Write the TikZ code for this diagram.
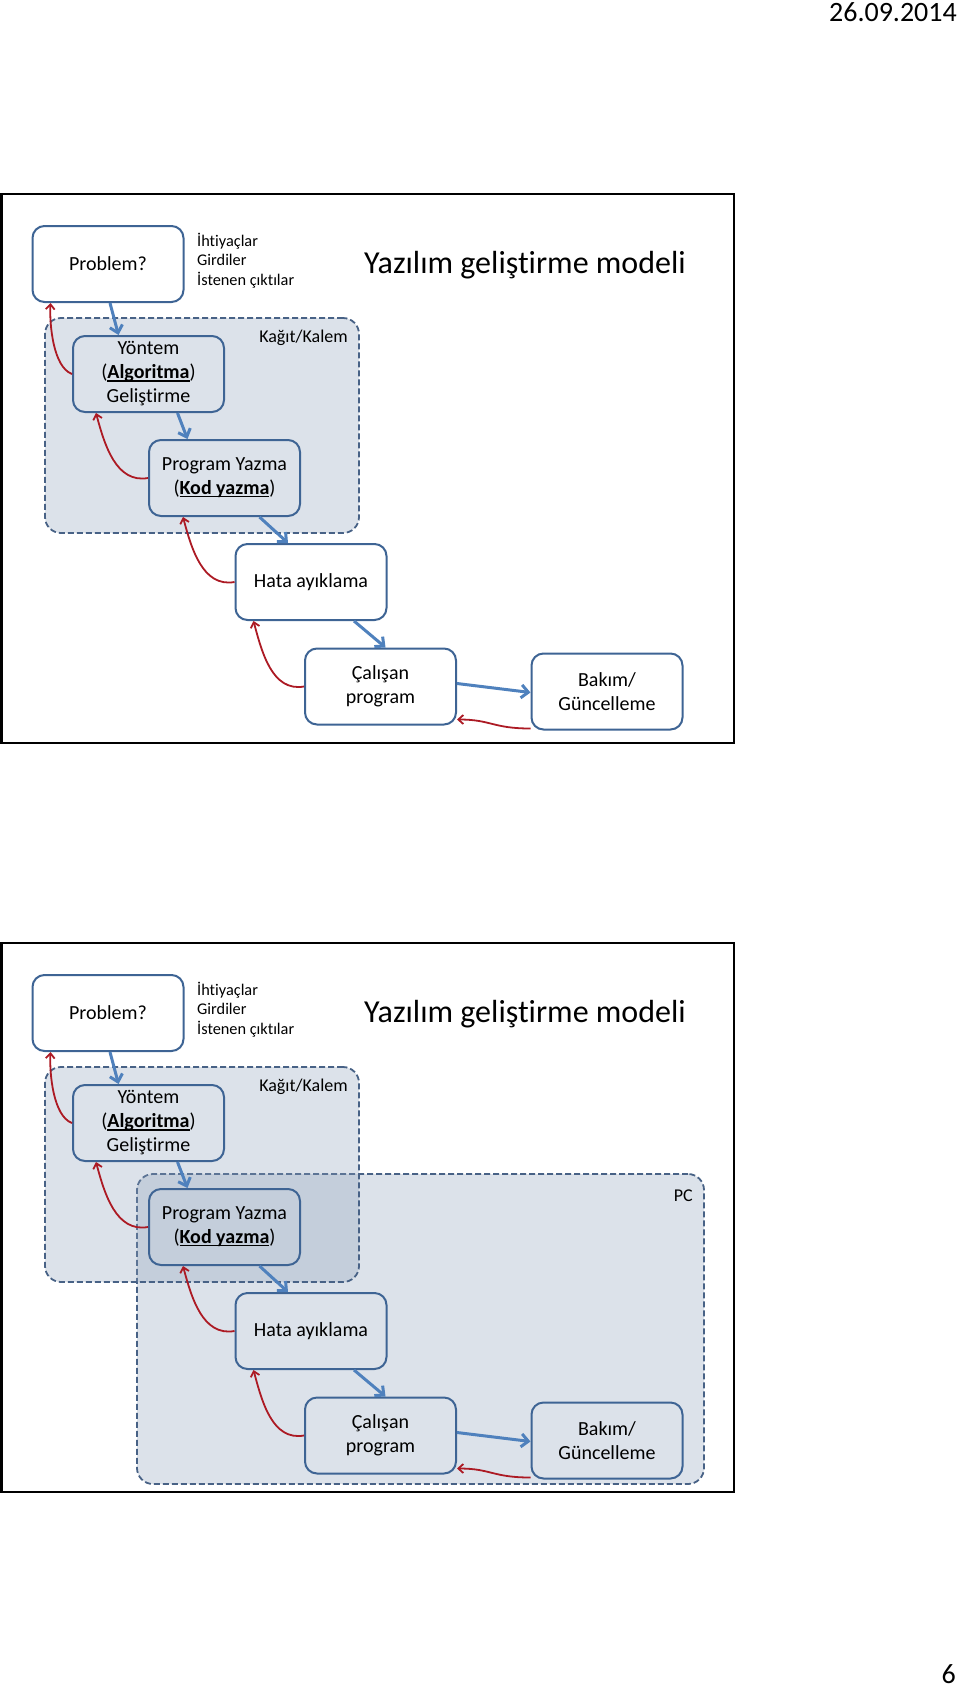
\documentclass[tikz,border=0pt]{standalone}
\usepackage{fontspec}
\setmainfont[Ligatures=NoCommon]{Carlito}
\usetikzlibrary{arrows.meta}

\definecolor{boxblue}{RGB}{62,100,148}
\definecolor{arrowblue}{RGB}{79,129,189}
\definecolor{backred}{RGB}{172,26,36}
\definecolor{zoneline}{RGB}{72,98,134}
\definecolor{zonefill}{RGB}{140,160,185}

% underline sitting close to the baseline
\newcommand{\undl}[1]{\setbox0\hbox{#1}\rlap{\rule[-2.6pt]{\wd0}{1.2pt}}\box0}

\begin{document}
\begin{tikzpicture}[x=1pt, y=-1pt,
            every node/.style={inner sep=0pt, font=\fontsize{20}{24}\selectfont},
            stepbox/.style={draw=boxblue, line width=2pt, rounded corners=12pt,
                            minimum width=151pt, minimum height=76pt, align=center},
            zone/.style={draw=zoneline, line width=1.8pt, dash pattern=on 6pt off 3pt,
                         rounded corners=16pt, fill=zonefill, fill opacity=0.3},
            zonelabel/.style={anchor=east, font=\fontsize{18}{20}\selectfont},
            fwd/.style={draw=arrowblue, line width=3pt, -{Straight Barb[length=7pt,width=13pt]}},
            back/.style={draw=backred, line width=1.8pt, -{Straight Barb[length=5pt,width=9pt]}},
            frame/.style={draw=black, line width=2.5pt},
            ]
\useasboundingbox (0,0) rectangle (960,1689);

\node[anchor=north east, font=\fontsize{28}{30}\selectfont] (date) at (957,2) {26.09.2014};
\node[anchor=south east, font=\fontsize{28}{30}\selectfont] (page) at (956,1684) {6};

% second slide only
\node[zone, minimum width=567pt, minimum height=310pt] (pc) at (420.5,1329) {};
\node[zonelabel] (pclbl) at ([xshift=-12pt,yshift=-23pt]pc.north east) {PC};

\foreach \s/\dy in {1/0, 2/749} {
\begin{scope}[yshift=-\dy pt]
    \draw[frame] (1.5,194) rectangle (734,743);
    \node[zone, minimum width=314pt, minimum height=215pt] (kagit\s) at (202,425.5) {};
    \node[zonelabel] (kagitlbl\s) at ([xshift=-12pt,yshift=-21pt]kagit\s.north east) {Kağıt/Kalem};

    \node[stepbox, fill=white] (prob\s) at (108,264) {Problem?};
    \node[anchor=west, align=left, font=\fontsize{16.3}{19.5}\selectfont] (req\s) at (197,260.5)
        {İhtiyaçlar\\Girdiler\\İstenen çıktılar};
    \node[font=\fontsize{32}{36}\selectfont] (title\s) at (525,265) {Yazılım geliştirme modeli};

    \node[stepbox] (yontem\s) at (148.5,374) {Yöntem\\(\undl{\textbf{Algoritma}})\\Geliştirme};
    \node[stepbox] (prog\s) at (224.5,478) {Program Yazma\\(\undl{\textbf{Kod yazma}})};
    \node[stepbox] (hata\s) at (311,582) {Hata ayıklama};
    \node[stepbox] (calis\s) at (380.5,686.5) {Çalışan\\program};
    \node[stepbox] (bakim\s) at (607,691.5) {Bakım/\\Güncelleme};

    \draw[fwd] ([xshift=2pt]prob\s.south) -- ([xshift=-30pt]yontem\s.north);
    \draw[fwd] ([xshift=29pt]yontem\s.south) -- ([xshift=-37pt]prog\s.north);
    \draw[fwd] ([xshift=35pt]prog\s.south) -- ([xshift=-23pt]hata\s.north);
    \draw[fwd] ([xshift=43pt]hata\s.south) -- ([xshift=5pt]calis\s.north);
    \draw[fwd] ([yshift=3pt]calis\s.east) -- ([yshift=-1pt]bakim\s.west);

    \draw[back] (yontem\s.west) to[out=160, in=-93, looseness=0.7] ([xshift=19pt]prob\s.south west);
    \draw[back] (prog\s.west) to[out=190, in=-75] ([xshift=24pt]yontem\s.south west);
    \draw[back] (hata\s.west) to[out=190, in=-75] ([xshift=35pt]prog\s.south west);
    \draw[back] (calis\s.west) to[out=190, in=-75] ([xshift=19pt]hata\s.south west);
    \draw[back] ([yshift=2pt]bakim\s.south west) .. controls +(-38,0) and +(34,0) .. ([yshift=6pt]calis\s.south east);
\end{scope}
}
\end{tikzpicture}
\end{document}
